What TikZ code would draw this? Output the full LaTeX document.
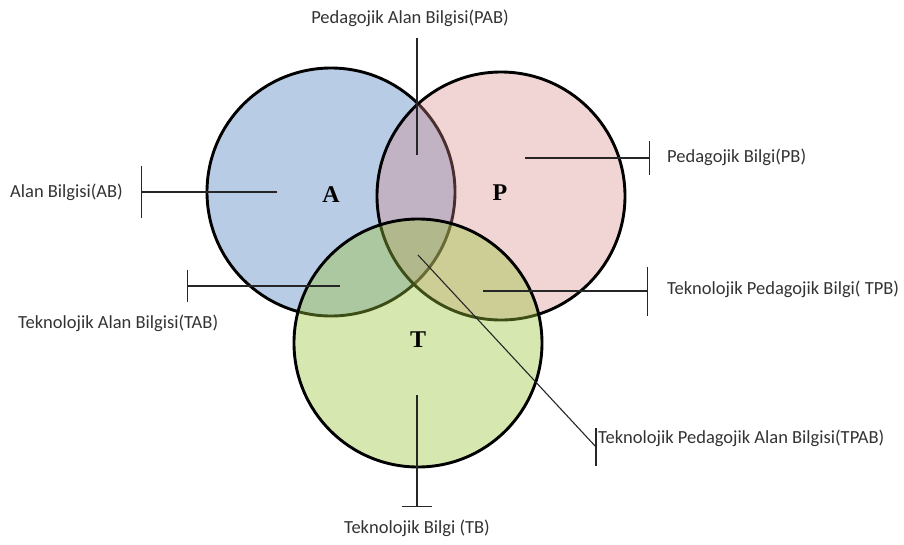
\documentclass[tikz,border=0pt]{standalone}
\usepackage{fontspec}
\setmainfont{Carlito}
\newfontfamily\letterfont{Liberation Serif}
\usetikzlibrary{arrows.meta}

\definecolor{ablue}{RGB}{184,204,230}
\definecolor{ppink}{RGB}{215,135,135}
\definecolor{tgreen}{RGB}{152,195,57}

\tikzset{
  circ/.style={line width=2.9pt},
  lead/.style={line width=1.1pt, black!85},
  lbl/.style={font=\fontsize{18.5}{21}\selectfont, text=black!80, inner sep=0pt},
  letter/.style={font=\letterfont\bfseries\fontsize{24}{26}\selectfont}
}

\begin{document}
\begin{tikzpicture}[x=1pt,y=-1pt]
  \useasboundingbox (0,0) rectangle (904,544);
  % circle centres
  \coordinate (cA) at (331,192);
  \coordinate (cP) at (501,196);
  \coordinate (cT) at (418,343);
  \filldraw[circ, fill=ablue] (cA) circle[radius=124pt];
  \filldraw[circ, fill=ppink, fill opacity=0.35] (cP) circle[radius=124pt];
  \filldraw[circ, fill=tgreen, fill opacity=0.4] (cT) circle[radius=124pt];

  \node[letter] (A) at (331,195) {A};
  \node[letter] (P) at (500,193) {P};
  \node[letter] (T) at (418,340) {T};

  % labels
  \node[lbl, anchor=west] (ab) at (10,192) {Alan Bilgisi(AB)};
  \node[lbl] (pab) at (410,18) {Pedagojik Alan Bilgisi(PAB)};
  \node[lbl, anchor=west] (pb) at (667,157) {Pedagojik Bilgi(PB)};
  \node[lbl, anchor=west] (tab) at (18,323) {Teknolojik Alan Bilgisi(TAB)};
  \node[lbl, anchor=west] (tpb) at (667,289) {Teknolojik Pedagojik Bilgi( TPB)};
  \node[lbl, anchor=west] (tpab) at (598,438) {Teknolojik Pedagojik Alan Bilgisi(TPAB)};
  \node[lbl] (tb) at (417,528) {Teknolojik Bilgi (TB)};

  % leader ends
  \coordinate (abIn) at (277,192);   \coordinate (abEnd) at (141,192);
  \coordinate (pabIn) at (417,155);  \coordinate (pabEnd) at (417,38);
  \coordinate (pbIn) at (525,158);   \coordinate (pbEnd) at (650,158);
  \coordinate (tabIn) at (340,286);  \coordinate (tabEnd) at (187,286);
  \coordinate (tpbIn) at (483,291);  \coordinate (tpbEnd) at (648,291);
  \coordinate (tpabIn) at (418,255); \coordinate (tpabEnd) at (596,447);
  \coordinate (tbIn) at (417,395);   \coordinate (tbEnd) at (417,507);

  \draw[lead, -{Bar[width=52pt]}] (abIn) -- (abEnd);
  \draw[lead] (pabIn) -- (pabEnd);
  \draw[lead, -{Bar[width=34pt]}] (pbIn) -- (pbEnd);
  \draw[lead, -{Bar[width=32pt]}] (tabIn) -- (tabEnd);
  \draw[lead, -{Bar[width=49pt]}] (tpbIn) -- (tpbEnd);
  \draw[lead] (tpabIn) -- (tpabEnd);
  \draw[lead] ([yshift=-19pt]tpabEnd) -- ([yshift=19pt]tpabEnd);
  \draw[lead, -{Bar[width=30pt]}] (tbIn) -- (tbEnd);
\end{tikzpicture}
\end{document}
